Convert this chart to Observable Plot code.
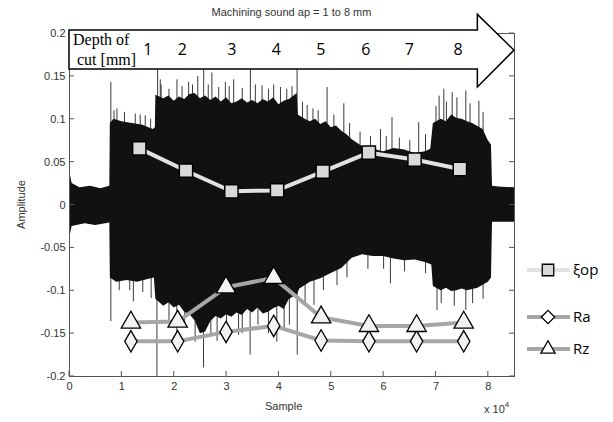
<!DOCTYPE html>
<html><head><meta charset="utf-8">
<script src="https://cdn.jsdelivr.net/npm/d3@7"></script>
<script src="https://cdn.jsdelivr.net/npm/@observablehq/plot@0.6"></script>
<style>body{margin:0;background:#fff} #chart svg{display:block}</style>
</head><body><div id="chart"></div>
<script>
// ---- data (x in units of 10^4 samples) ----
const upperX = [0,0.05,0.2,0.4,0.6,0.77,0.78,0.85,1.0,1.2,1.4,1.6,1.64,1.65,1.8,1.9,2.0,2.1,2.2,2.3,2.4,2.5,2.6,2.7,2.8,2.9,3.0,3.1,3.2,3.3,3.4,3.5,3.6,3.7,3.8,3.9,4.0,4.1,4.2,4.35,4.37,4.5,4.6,4.7,4.8,4.9,5.0,5.1,5.2,5.3,5.4,5.5,5.6,5.8,6.0,6.2,6.4,6.6,6.8,6.9,6.95,7.1,7.2,7.3,7.4,7.5,7.6,7.7,7.9,8.0,8.06,8.08,8.2,8.5];
const upperY = [0.04,0.025,0.02,0.022,0.019,0.022,0.095,0.1,0.097,0.095,0.093,0.088,0.09,0.128,0.124,0.127,0.121,0.126,0.123,0.129,0.13,0.124,0.127,0.122,0.126,0.12,0.125,0.118,0.12,0.124,0.119,0.122,0.118,0.123,0.12,0.125,0.117,0.121,0.123,0.13,0.105,0.1,0.097,0.1,0.094,0.097,0.09,0.092,0.086,0.082,0.076,0.072,0.068,0.065,0.062,0.066,0.064,0.06,0.062,0.065,0.095,0.1,0.097,0.105,0.101,0.1,0.097,0.095,0.088,0.075,0.07,0.022,0.021,0.02];
const lowerX = [0,0.05,0.3,0.5,0.77,0.78,0.9,1.1,1.3,1.5,1.62,1.65,1.8,1.9,2.0,2.1,2.2,2.3,2.4,2.5,2.6,2.7,2.8,2.9,3.0,3.1,3.2,3.3,3.4,3.5,3.6,3.7,3.8,3.9,4.0,4.1,4.2,4.35,4.4,4.6,4.8,5.0,5.2,5.4,5.6,5.8,6.0,6.2,6.4,6.6,6.8,6.92,6.95,7.1,7.2,7.3,7.4,7.5,7.6,7.8,8.0,8.06,8.08,8.3,8.5];
const lowerY = [-0.04,-0.025,-0.022,-0.024,-0.021,-0.085,-0.09,-0.088,-0.09,-0.087,-0.085,-0.11,-0.118,-0.114,-0.12,-0.117,-0.125,-0.128,-0.135,-0.15,-0.148,-0.136,-0.13,-0.133,-0.128,-0.131,-0.126,-0.129,-0.122,-0.126,-0.12,-0.127,-0.125,-0.121,-0.118,-0.122,-0.11,-0.105,-0.098,-0.09,-0.086,-0.08,-0.074,-0.062,-0.058,-0.06,-0.06,-0.063,-0.065,-0.064,-0.067,-0.07,-0.095,-0.1,-0.097,-0.101,-0.1,-0.098,-0.1,-0.097,-0.09,-0.085,-0.02,-0.02,-0.02];
const spikeUpX = [0.79,0.85,0.906,1.05,1.256,1.35,1.447,1.55,1.683,1.734,1.75,1.9,2.053,2.15,2.276,2.35,2.45,2.563,2.65,2.72,2.85,2.977,3.05,3.136,3.3,3.455,3.55,3.678,3.8,3.9,4.03,4.15,4.25,4.347,4.45,4.54,4.65,4.75,4.92,5.05,5.24,5.35,5.55,5.75,5.94,6.05,6.16,6.3,6.5,6.67,6.8,7.0,7.06,7.15,7.2,7.31,7.4,7.57,7.65,7.82,7.9];
const spikeUpY = [0.143,0.11,0.112,0.108,0.106,0.105,0.104,0.1,0.158,0.146,0.14,0.135,0.146,0.138,0.143,0.14,0.15,0.158,0.14,0.154,0.137,0.143,0.138,0.146,0.136,0.158,0.14,0.139,0.135,0.14,0.137,0.135,0.138,0.158,0.12,0.116,0.112,0.11,0.137,0.105,0.118,0.095,0.085,0.08,0.088,0.08,0.102,0.078,0.075,0.096,0.082,0.115,0.127,0.135,0.12,0.131,0.125,0.133,0.118,0.121,0.108];
const spikeDnX = [0.79,0.95,1.15,1.22,1.4,1.56,1.67,1.83,1.9,2.05,2.2,2.4,2.56,2.7,2.82,3.0,3.23,3.3,3.45,3.6,3.8,3.96,4.1,4.2,4.35,4.5,4.67,4.85,5.11,5.3,5.7,6.0,6.13,6.4,6.8,7.02,7.1,7.35,7.57,7.7,7.9];
const spikeDnY = [-0.136,-0.1,-0.1,-0.113,-0.102,-0.109,-0.2,-0.107,-0.135,-0.152,-0.14,-0.16,-0.19,-0.15,-0.159,-0.145,-0.152,-0.15,-0.175,-0.14,-0.15,-0.16,-0.145,-0.14,-0.175,-0.115,-0.117,-0.1,-0.094,-0.085,-0.075,-0.075,-0.092,-0.078,-0.08,-0.123,-0.115,-0.118,-0.123,-0.115,-0.11];
const xiopX = [1.333,2.225,3.092,3.965,4.838,5.717,6.591,7.457];
const xiopY = [0.066,0.040,0.016,0.017,0.039,0.061,0.053,0.042];
const rX = [1.173,2.066,2.99,3.90,4.806,5.72,6.63,7.53];
const raY = [-0.159,-0.159,-0.148,-0.141,-0.158,-0.159,-0.159,-0.159];
const rzY = [-0.137,-0.136,-0.096,-0.085,-0.131,-0.141,-0.141,-0.137];
const depthLabels = ["1","2","3","4","5","6","7","8"];
const depthX = [1.505,2.165,3.11,3.96,4.81,5.67,6.50,7.43];
const xTicks = [0,1,2,3,4,5,6,7,8];
const yTicks = [-0.2,-0.15,-0.1,-0.05,0,0.05,0.1,0.15,0.2];
const legendItems = ["ξop","Ra","Rz"];

const zip = (xs, ys) => xs.map((x, i) => ({x, v: ys[i]}));
const upper = zip(upperX, upperY), lower = zip(lowerX, lowerY);
const spUp = zip(spikeUpX, spikeUpY), spDn = zip(spikeDnX, spikeDnY);
const xiop = zip(xiopX, xiopY), ra = zip(rX, raY), rz = zip(rX, rzY);

const plot = Plot.plot({
  width: 613, height: 422,
  marginTop: 33, marginBottom: 46, marginLeft: 69, marginRight: 99,
  style: {fontFamily: "'Liberation Sans', Arial, sans-serif", fontSize: "11px", color: "#333", background: "#fff", overflow: "visible"},
  x: {domain: [0, 8.5], ticks: xTicks, tickFormat: d => String(d), label: null},
  y: {domain: [-0.2, 0.2], ticks: yTicks, tickFormat: d => String(d), label: null},
  marks: [
    Plot.ruleX(spUp, {x: "x", y1: 0, y2: "v", stroke: "#3a3a3a", strokeWidth: 1}),
    Plot.ruleX(spDn, {x: "x", y1: 0, y2: "v", stroke: "#3a3a3a", strokeWidth: 1}),
    Plot.areaY(upper, {x: "x", y1: -0.004, y2: "v", fill: "#111"}),
    Plot.areaY(lower, {x: "x", y1: "v", y2: 0.004, fill: "#111"}),
    Plot.line(xiop, {x: "x", y: "v", stroke: "#e2e2e2", strokeWidth: 4}),
    Plot.dot(xiop, {x: "x", y: "v", symbol: "square", r: 7.5, fill: "#d9d9d9", stroke: "#000", strokeWidth: 1.5}),
    Plot.line(ra, {x: "x", y: "v", stroke: "#a6a6a6", strokeWidth: 4}),
    Plot.line(rz, {x: "x", y: "v", stroke: "#a6a6a6", strokeWidth: 4}),
    Plot.dot(ra, {x: "x", y: "v", symbol: "diamond", r: 6.5, fill: "#f2f2f2", stroke: "#000", strokeWidth: 1.3}),
    Plot.dot(rz, {x: "x", y: "v", symbol: "triangle", r: 7.2, fill: "#f2f2f2", stroke: "#000", strokeWidth: 1.3}),
    Plot.frame({stroke: "#555"}),
    Plot.axisX({anchor: "bottom", ticks: xTicks, tickSize: 0, tickPadding: 6, tickFormat: d => String(d), label: null}),
    Plot.axisY({anchor: "left", ticks: yTicks, tickSize: 0, tickPadding: 4, tickFormat: d => String(d), label: null})
  ]
});
document.getElementById("chart").append(plot);

const svg = d3.select(plot);
const sx = plot.scale("x"), sy = plot.scale("y");
const X = v => sx.apply(v), Y = v => sy.apply(v);
const [x0, x1] = [X(0), X(8.5)], [yb, yt] = [Y(-0.2), Y(0.2)];

// inward ticks on all four sides (MATLAB box style)
const g = svg.append("g").attr("stroke", "#555").attr("stroke-width", 1);
xTicks.forEach(t => {
  g.append("line").attr("x1", X(t)).attr("x2", X(t)).attr("y1", yb).attr("y2", yb - 5);
  g.append("line").attr("x1", X(t)).attr("x2", X(t)).attr("y1", yt).attr("y2", yt + 5);
});
yTicks.forEach(t => {
  g.append("line").attr("x1", x0).attr("x2", x0 + 5).attr("y1", Y(t)).attr("y2", Y(t));
  g.append("line").attr("x1", x1).attr("x2", x1 - 5).attr("y1", Y(t)).attr("y2", Y(t));
});

// axis titles
svg.append("text").attr("x", (x0 + x1) / 2).attr("y", 16).attr("text-anchor", "middle")
  .attr("font-size", 11).attr("fill", "#333").text("Machining sound ap = 1 to 8 mm");
svg.append("text").attr("x", X(4.1)).attr("y", 410).attr("text-anchor", "middle")
  .attr("font-size", 11).attr("fill", "#333").text("Sample");
svg.append("text").attr("transform", `translate(25,${Y(0)}) rotate(-90)`).attr("text-anchor", "middle")
  .attr("font-size", 11).attr("fill", "#333").text("Amplitude");
const e = svg.append("text").attr("x", 484).attr("y", 413).attr("text-anchor", "start").attr("font-size", 11).attr("fill", "#333");
e.append("tspan").text("x 10");
e.append("tspan").attr("dy", -6).attr("font-size", 8).text("4");

// depth-of-cut arrow
const arrow = [[0, 0.2035], [7.8, 0.2035], [7.8, 0.2217], [8.5, 0.18], [7.8, 0.137], [7.8, 0.158], [0, 0.158]];
svg.append("polygon").attr("points", arrow.map(([a, b]) => `${X(a)},${Y(b)}`).join(" "))
  .attr("fill", "#fff").attr("stroke", "#000").attr("stroke-width", 1.5);
const dt = svg.append("g").attr("font-family", "'Liberation Serif', 'Times New Roman', serif").attr("font-size", 16).attr("fill", "#000").attr("text-anchor", "start");
dt.append("text").attr("x", x0 + 4).attr("y", 45).text("Depth of");
dt.append("text").attr("x", x0 + 8).attr("y", 65).text("cut [mm]");
svg.append("g").attr("font-family", "'Open Sans', sans-serif").attr("font-size", 16).attr("fill", "#000")
  .selectAll("text").data(depthLabels).join("text")
  .attr("x", (d, i) => X(depthX[i])).attr("y", 55).attr("text-anchor", "middle").text(d => d);

// legend
const leg = svg.append("g").attr("font-family", "'Open Sans', sans-serif").attr("font-size", 15).attr("fill", "#000").attr("text-anchor", "start");
const legY = [270, 317, 349];
const legStroke = ["#e2e2e2", "#a6a6a6", "#a6a6a6"];
const sym = [d3.symbol(d3.symbolSquare, Math.PI * 7.5 * 7.5 * 0.75), d3.symbol(d3.symbolDiamond2, Math.PI * 6 * 6), d3.symbol(d3.symbolTriangle2, Math.PI * 6.8 * 6.8)];
const symFill = ["#d9d9d9", "#fff", "#fff"];
legendItems.forEach((name, i) => {
  leg.append("line").attr("x1", 527).attr("x2", 570).attr("y1", legY[i]).attr("y2", legY[i])
    .attr("stroke", legStroke[i]).attr("stroke-width", 4);
  leg.append("path").attr("d", sym[i]()).attr("transform", `translate(548,${legY[i]})`)
    .attr("fill", symFill[i]).attr("stroke", "#000").attr("stroke-width", 1.3);
  leg.append("text").attr("x", 573).attr("y", legY[i]).attr("dy", "0.35em").text(name);
});
</script></body></html>
